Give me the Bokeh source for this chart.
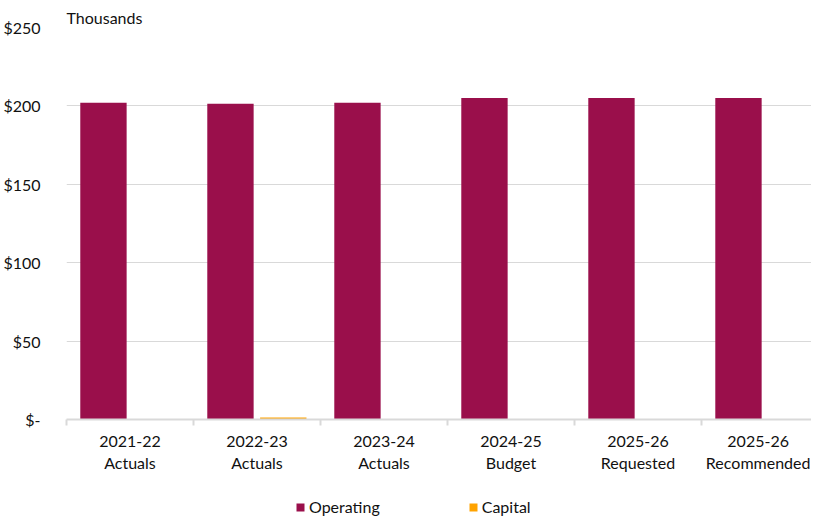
from bokeh.plotting import figure
from bokeh.models import (ColumnDataSource, Range1d, FixedTicker, Legend, LegendItem)
from bokeh.transform import dodge
from bokeh.layouts import column
from bokeh.embed import file_html
from bokeh.resources import INLINE

categories = ["2021-22\nActuals", "2022-23\nActuals", "2023-24\nActuals",
              "2024-25\nBudget", "2025-26\nRequested", "2025-26\nRecommended"]
operating = [202.0, 201.4, 202.0, 205.0, 205.0, 205.0]
capital = [0.0, 1.3, 0.0, 0.0, 0.0, 0.0]
y_ticks = [0, 50, 100, 150, 200, 250]
y_labels = ["$-", "$50", "$100", "$150", "$200", "$250"]
series_names = ["Operating", "Capital"]

OP_COLOR = "#9A0F4B"
CAP_COLOR = "#FFA300"
FONT = "Lato"

n = len(categories)
centers = [i + 0.5 for i in range(n)]
src = ColumnDataSource(dict(x=centers, operating=operating, capital=capital))

x_end = 5.866
p = figure(width=811, height=479, output_backend="svg", toolbar_location=None,
           x_range=Range1d(0, x_end), y_range=Range1d(0, 250),
           min_border_left=56, min_border_right=0, min_border_top=27, min_border_bottom=60)
p.outline_line_color = None

p.vbar(x=dodge("x", -0.209, range=p.x_range), top="operating", width=0.365,
       source=src, color=OP_COLOR, line_color=None)
p.vbar(x=dodge("x", 0.207, range=p.x_range), top="capital", width=0.365,
       source=src, color=CAP_COLOR, line_color=None)

# x axis: labels at category centers, tick marks at category boundaries
label_pos = centers[:-1] + [min(centers[-1], x_end - 0.42)]
p.xaxis.ticker = FixedTicker(ticks=label_pos, minor_ticks=list(range(n + 1)))
p.xaxis.major_label_overrides = {pos: lab for pos, lab in zip(label_pos, categories)}
p.xaxis.major_tick_line_color = None
p.xaxis.major_tick_out = 0
p.xaxis.major_tick_in = 0
p.xaxis.minor_tick_out = 6
p.xaxis.minor_tick_in = 0
p.xaxis.minor_tick_line_color = "#D9D9D9"
p.xaxis.minor_tick_line_width = 2
p.xaxis.axis_line_color = "#D9D9D9"
p.xaxis.axis_line_width = 2
p.xaxis.major_label_text_font = FONT
p.xaxis.major_label_text_font_size = "16px"
p.xaxis.major_label_text_color = "#111111"
p.xaxis.major_label_standoff = 5
p.xgrid.grid_line_color = None

p.yaxis.ticker = FixedTicker(ticks=y_ticks)
p.yaxis.major_label_overrides = {t: l for t, l in zip(y_ticks, y_labels)}
p.yaxis.axis_line_color = None
p.yaxis.major_tick_line_color = None
p.yaxis.minor_tick_line_color = None
p.yaxis.major_label_text_font = FONT
p.yaxis.major_label_text_font_size = "16px"
p.yaxis.major_label_text_color = "#111111"
p.yaxis.major_label_standoff = 20
p.ygrid.grid_line_color = "#D9D9D9"
p.ygrid.grid_line_width = 1

p.title.text = "Thousands"
p.title.text_font = FONT
p.title.text_font_size = "16px"
p.title.text_font_style = "normal"
p.title.text_color = "#111111"
p.title.align = "left"
p.title.standoff = 2

# legend strip below the chart (legend-only renderers have zero size)
lg = figure(width=811, height=37, output_backend="svg", toolbar_location=None,
            x_range=Range1d(0, 1), y_range=Range1d(0, 1),
            min_border_left=0, min_border_right=0, min_border_top=0, min_border_bottom=0)
lg.axis.visible = False
lg.grid.grid_line_color = None
lg.outline_line_color = None
lg_op = lg.vbar(x=[0.5], top=[0], bottom=[0], width=0, color=OP_COLOR, line_color=None)
lg_cap = lg.vbar(x=[0.5], top=[0], bottom=[0], width=0, color=CAP_COLOR, line_color=None)
legend = Legend(items=[LegendItem(label=series_names[0], renderers=[lg_op]),
                       LegendItem(label=series_names[1], renderers=[lg_cap])],
                orientation="horizontal", location=(229, 0), spacing=88,
                glyph_width=10, glyph_height=10, label_standoff=4,
                label_text_font=FONT, label_text_font_size="16px",
                label_text_color="#111111", border_line_color=None,
                background_fill_alpha=0, padding=2, margin=0)
lg.add_layout(legend, "center")

open("out.html", "w").write(file_html(column(p, lg, spacing=0), INLINE))
